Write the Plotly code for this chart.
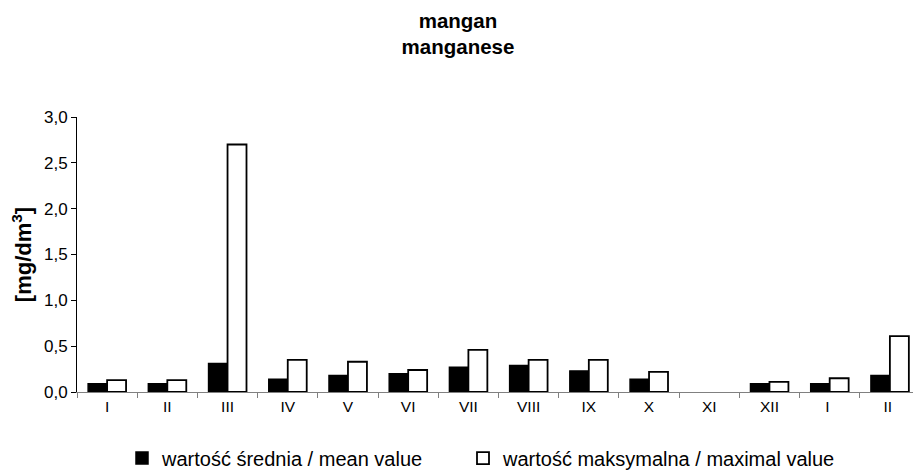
import plotly.graph_objects as go

categories = ["I", "II", "III", "IV", "V", "VI", "VII", "VIII", "IX", "X", "XI", "XII", "I ", "II "]
mean_values = [0.09, 0.09, 0.31, 0.14, 0.18, 0.20, 0.27, 0.29, 0.23, 0.14, None, 0.09, 0.09, 0.18]
max_values = [0.13, 0.13, 2.70, 0.35, 0.33, 0.24, 0.46, 0.35, 0.35, 0.22, None, 0.11, 0.15, 0.61]
y_ticks = [0.0, 0.5, 1.0, 1.5, 2.0, 2.5, 3.0]

# The page body has an 8px default margin, so the figure is 8px smaller
# in each direction and all positions are relative to that offset.
W, H = 913, 465

fig = go.Figure()
fig.add_trace(go.Bar(
    x=categories, y=mean_values, name="wartość średnia / mean value",
    marker=dict(color="black", line=dict(color="black", width=1.5)),
    legend="legend",
))
fig.add_trace(go.Bar(
    x=categories, y=max_values, name="wartość maksymalna / maximal value",
    marker=dict(color="white", line=dict(color="black", width=1.8)),
    legend="legend2",
))

legend_common = dict(orientation="h", xanchor="left", xref="container",
                     yanchor="middle", yref="container", y=0.032,
                     font=dict(size=20), itemwidth=30,
                     bgcolor="rgba(0,0,0,0)")

fig.update_layout(
    width=W, height=H,
    margin=dict(l=69, r=1, t=109, b=81, autoexpand=False),
    paper_bgcolor="white", plot_bgcolor="white",
    font=dict(family="Liberation Sans, Arial, sans-serif", color="black", size=15),
    separators=", ",
    barmode="group", bargap=0.37, bargroupgap=0,
    title=dict(text="<b>mangan</b><br><b>manganese</b>", x=450 / W, xanchor="center",
               xref="container", y=0.958, yanchor="middle", font=dict(size=20.5)),
    showlegend=True,
    legend=dict(x=114 / W, **legend_common),
    legend2=dict(x=455 / W, **legend_common),
    xaxis=dict(
        type="category", showline=True, linecolor="#808080", linewidth=1,
        ticks="outside", tickson="boundaries", ticklen=5, tickcolor="#808080",
        tickfont=dict(size=15.5), showgrid=False, automargin=False,
    ),
    yaxis=dict(
        range=[0, 3.0], tickvals=y_ticks, tickformat=".1f",
        showline=True, linecolor="black", linewidth=1,
        ticks="outside", ticklen=5, tickcolor="black",
        showgrid=False, zeroline=False, automargin=False,
        tickfont=dict(size=17),
        title=dict(text="<b>[mg/dm<sup>3</sup>]</b>", font=dict(size=22), standoff=10),
    ),
)

fig.write_html("out.html")
